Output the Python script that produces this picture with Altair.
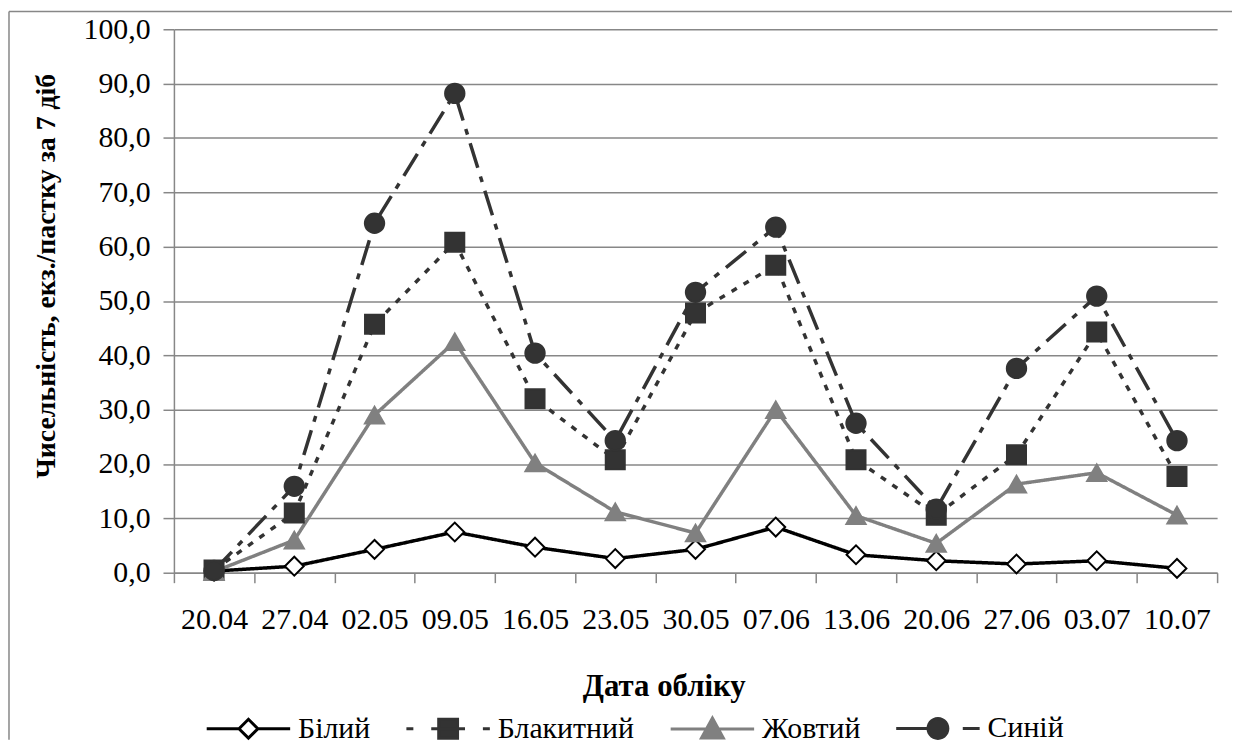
import math
import altair as alt
import pandas as pd

# ---------------- data ----------------
dates = ["20.04", "27.04", "02.05", "09.05", "16.05", "23.05", "30.05",
         "07.06", "13.06", "20.06", "27.06", "03.07", "10.07"]
series_names = ["Білий", "Блакитний", "Жовтий", "Синій"]
bilyi = [0.3, 1.2, 4.3, 7.5, 4.7, 2.6, 4.3, 8.4, 3.3, 2.2, 1.6, 2.2, 0.8]
blakytnyi = [0.5, 11.0, 45.7, 60.8, 32.0, 20.8, 47.8, 56.6, 20.8, 10.6, 21.7, 44.3, 17.7]
zhovtyi = [0.2, 6.0, 29.0, 42.5, 20.2, 11.2, 7.3, 30.0, 10.5, 5.4, 16.3, 18.4, 10.6]
synii = [0.4, 15.9, 64.3, 88.2, 40.4, 24.3, 51.6, 63.6, 27.5, 11.7, 37.6, 50.9, 24.3]
y_ticks = [0, 10, 20, 30, 40, 50, 60, 70, 80, 90, 100]

rows = []
for name, vals in zip(series_names, [bilyi, blakytnyi, zhovtyi, synii]):
    for i, (d, v) in enumerate(zip(dates, vals)):
        rows.append({"date": d, "idx": i, "series": name, "value": v})
df = pd.DataFrame(rows)

# ---------------- styles ----------------
GRAY = "#878787"
DARK = "#333333"
MID = "#808080"
FONT = "'Liberation Serif', 'Times New Roman', 'DejaVu Serif', serif"

line_colors = ["black", DARK, MID, DARK]
line_dashes = [[1, 0], [6, 8], [1, 0], [26, 9, 6, 9]]
line_widths = [3.5, 3.5, 3, 3]
shapes = ["diamond", "square", "triangle-up", "circle"]
pt_fill = ["white", DARK, MID, DARK]
pt_stroke = ["black", DARK, MID, DARK]
pt_size = [360, 380, 500, 420]

# ---- legend symbol paths (line + marker), in symbol unit coords ----
LEG_SIZE = 900
LEG_SW = 3
UNIT = (LEG_SIZE ** 0.5) / 2.0
CENTER = ((LEG_SIZE ** 0.5) + LEG_SW) / 2.0


def ux(px):
    return f"{(px - CENTER) / UNIT:.3f}"


def uy(py):
    return f"{py / UNIT:.3f}"


def seg(a, b):
    return f"M{ux(a)},0H{ux(b)}"


def diamond(cx, r):
    return f"M{ux(cx)},{uy(-r)}L{ux(cx + r)},0L{ux(cx)},{uy(r)}L{ux(cx - r)},0Z"


def square(cx, r):
    return f"M{ux(cx - r)},{uy(-r)}H{ux(cx + r)}V{uy(r)}H{ux(cx - r)}Z"


def triangle(cx, hw, top, bottom):
    return f"M{ux(cx)},{uy(top)}L{ux(cx + hw)},{uy(bottom)}L{ux(cx - hw)},{uy(bottom)}Z"


def circle(cx, r, n=28):
    pts = []
    for k in range(n):
        a = 2 * math.pi * k / n
        pts.append(f"{ux(cx + r * math.cos(a))},{uy(r * math.sin(a))}")
    return "M" + "L".join(pts) + "Z"


leg_paths = [
    seg(0, 32.5) + seg(51.5, 84) + diamond(42, 9.5),
    seg(0, 7) + seg(25, 59) + seg(77, 84) + square(42, 9.5),
    seg(0, 84) + triangle(42, 11, -11, 9),
    seg(0, 33) + seg(67, 84) + circle(42, 10),
]


def make_legend():
    return alt.Legend(
        orient="none", legendX=33, legendY=687, direction="horizontal", columns=4,
        title=None, labelFont=FONT, labelFontSize=30, labelColor="black",
        labelOffset=59, columnPadding=30, symbolSize=LEG_SIZE,
        symbolStrokeWidth=LEG_SW, symbolOpacity=1, padding=0,
    )


x_enc = alt.X(
    "date:N", sort=dates,
    scale=alt.Scale(type="band", domain=dates, paddingInner=0, paddingOuter=0),
    axis=alt.Axis(
        title="Дата обліку", labelAngle=0, labelFont=FONT, labelFontSize=30,
        labelColor="black", labelPadding=22, tickBand="extent", tickSize=10,
        tickColor=GRAY, tickWidth=1.5, domainColor=GRAY, domainWidth=1.5,
        grid=False, titleFont=FONT, titleFontSize=31, titleFontWeight="bold",
        titleColor="black", titleX=493, titleY=124, titleBaseline="alphabetic",
        titleAlign="center", labelOverlap=False,
    ),
)
y_enc = alt.Y(
    "value:Q",
    scale=alt.Scale(domain=[0, 100], nice=False, zero=True),
    axis=alt.Axis(
        title="Чисельність, екз./пастку за 7 діб", values=y_ticks,
        labelExpr="replace(format(datum.value, '.1f'), '.', ',')",
        labelFont=FONT, labelFontSize=30, labelColor="black", labelPadding=13,
        tickSize=11, tickColor=GRAY, tickWidth=1.5, domainColor=GRAY,
        domainWidth=1.5, grid=True, gridColor=GRAY, gridWidth=1.5,
        titleFont=FONT, titleFontSize=28, titleFontWeight="bold",
        titleColor="black", titleX=-128, titleY=248, titleBaseline="middle",
        titleAngle=270, titleAlign="center",
    ),
)

base = alt.Chart(df)
lines = base.mark_line(strokeCap="butt").encode(
    x=x_enc, y=y_enc,
    order=alt.Order("idx:Q"),
    color=alt.Color("series:N", scale=alt.Scale(domain=series_names, range=line_colors), legend=None),
    strokeDash=alt.StrokeDash("series:N", scale=alt.Scale(domain=series_names, range=line_dashes), legend=None),
    strokeWidth=alt.StrokeWidth("series:N", scale=alt.Scale(domain=series_names, range=line_widths), legend=None),
)
points = base.mark_point(opacity=1, strokeWidth=2).encode(
    x=x_enc, y=y_enc,
    shape=alt.Shape("series:N", scale=alt.Scale(domain=series_names, range=shapes), legend=None),
    fill=alt.Fill("series:N", scale=alt.Scale(domain=series_names, range=pt_fill), legend=None),
    stroke=alt.Stroke("series:N", scale=alt.Scale(domain=series_names, range=pt_stroke), legend=None),
    size=alt.Size("series:N", scale=alt.Scale(domain=series_names, range=pt_size), legend=None),
)

# invisible layer (no rows) that only carries the combined line+marker legend
legend_layer = base.transform_filter("false").mark_point(opacity=1, strokeWidth=LEG_SW).encode(
    x=x_enc, y=y_enc,
    shape=alt.Shape("series:N", scale=alt.Scale(domain=series_names, range=leg_paths), legend=make_legend()),
    fill=alt.Fill("series:N", scale=alt.Scale(domain=series_names, range=pt_fill), legend=make_legend()),
    stroke=alt.Stroke("series:N", scale=alt.Scale(domain=series_names, range=pt_stroke), legend=make_legend()),
)

frame_top = alt.Chart(alt.Data(values=[{}])).mark_rule(color=GRAY, strokeWidth=1.5).encode(
    x=alt.value(-166), x2=alt.value(1065), y=alt.value(-18))
frame_left = alt.Chart(alt.Data(values=[{}])).mark_rule(color=GRAY, strokeWidth=1.5).encode(
    x=alt.value(-166), y=alt.value(-18), y2=alt.value(715))

chart = alt.layer(frame_top, frame_left, lines, points, legend_layer).resolve_scale(
    shape="independent", fill="independent", stroke="independent"
).properties(
    width=1050, height=547, padding=0, background="white"
).configure_view(stroke=None)

chart.save("out.html", embed_options={"renderer": "svg", "actions": False})
